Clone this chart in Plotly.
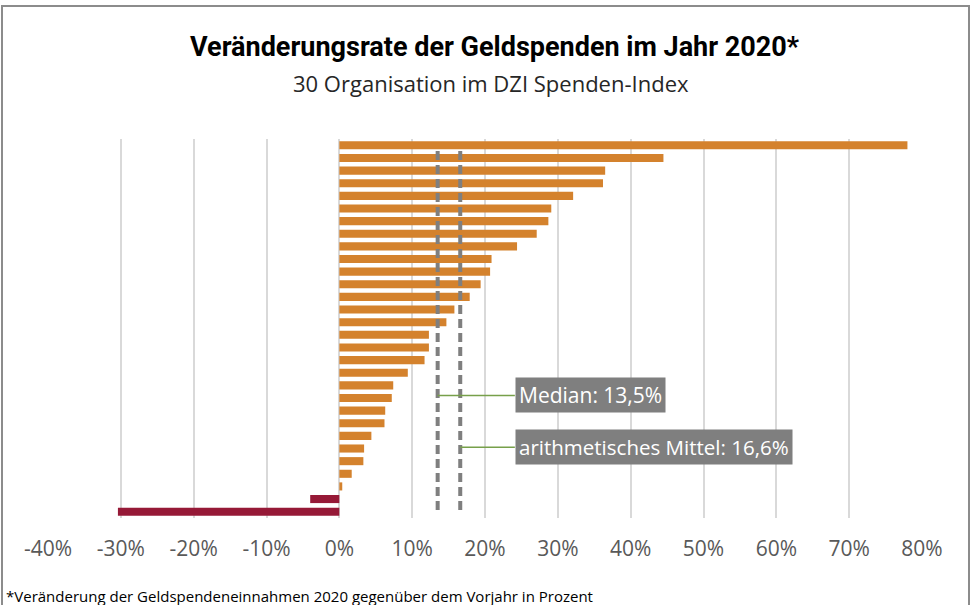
import plotly.graph_objects as go

# Data: change rate of monetary donations 2020 (%), 30 organisations, sorted descending
rates = [78.0, 44.5, 36.5, 36.2, 32.1, 29.1, 28.7, 27.1, 24.4, 20.9,
         20.7, 19.4, 17.9, 15.8, 14.7, 12.3, 12.3, 11.7, 9.4, 7.4,
         7.2, 6.3, 6.2, 4.4, 3.4, 3.3, 1.7, 0.4, -4.0, -30.4]
tick_vals = [-40, -30, -20, -10, 0, 10, 20, 30, 40, 50, 60, 70, 80]
tick_text = [f"{v}%" for v in tick_vals]

title = "Veränderungsrate der Geldspenden im Jahr 2020*"
subtitle = "30 Organisation im DZI Spenden-Index"
footnote = "*Veränderung der Geldspendeneinnahmen 2020 gegenüber dem Vorjahr in Prozent"

median_val = 13.5
mean_val = 16.6

ORANGE = "#D4822D"
DARKRED = "#961937"
GREY = "#7F7F7F"
GREEN = "#77A04A"
FONT = "Open Sans"

rows = list(range(len(rates)))
colors = [ORANGE if r >= 0 else DARKRED for r in rates]

fig = go.Figure()
fig.add_trace(go.Bar(
    x=rates, y=rows, orientation="h",
    marker=dict(color=colors, line=dict(width=0)),
    hoverinfo="x",
))

# dashed reference lines (median and mean)
for v in (median_val, mean_val):
    fig.add_shape(type="line", xref="x", yref="y", x0=v, x1=v, y0=0.45, y1=29.1,
                  line=dict(color=GREY, width=4, dash="9px,5px"), layer="above")

# labels with green connector lines
fig.add_annotation(x=median_val, y=19.8, xref="x", yref="y",
                   ax=24.1, ay=19.8, axref="x", ayref="y",
                   text="Median: 13,5%", showarrow=True, arrowhead=0,
                   arrowcolor=GREEN, arrowwidth=1.5, xanchor="left",
                   bgcolor=GREY, borderpad=3,
                   font=dict(family=FONT, size=21, color="white"))
fig.add_annotation(x=mean_val, y=23.9, xref="x", yref="y",
                   ax=24.1, ay=23.9, axref="x", ayref="y",
                   text="arithmetisches Mittel: 16,6%", showarrow=True, arrowhead=0,
                   arrowcolor=GREEN, arrowwidth=1.5, xanchor="left",
                   bgcolor=GREY, borderpad=3,
                   font=dict(family=FONT, size=20.5, color="white"))

# titles
fig.add_annotation(x=0.511, y=47, xref="paper", yref="paper", text="<b>" + title + "</b>",
                   showarrow=False, yanchor="middle",
                   font=dict(family="Roboto", size=27, color="black"))
fig.add_annotation(x=0.507, y=83, xref="paper", yref="paper", text=subtitle,
                   showarrow=False, yanchor="middle",
                   font=dict(family=FONT, size=22, color="#262626"))
fig.add_annotation(x=0.0, y=596, xref="paper", yref="paper", text=footnote,
                   showarrow=False, yanchor="middle", xanchor="left",
                   font=dict(family=FONT, size=15, color="black"))

# convert pixel positions of titles to paper coordinates
PL, PR, PT, PB = 48, 49, 139, 87
W, H = 971, 605
ph = H - PT - PB
pw = W - PL - PR
for ann in fig.layout.annotations:
    if ann.yref == "paper":
        ann.y = (H - PB - ann.y) / ph
fig.layout.annotations[-1].x = (4 - PL) / pw

# outer frame
def px_x(p):
    return (p - PL) / pw

def px_y(p):
    return (H - PB - p) / ph

frame = dict(color="#8C8C8C", width=2)
fig.add_shape(type="line", xref="paper", yref="paper", x0=px_x(2), x1=px_x(969),
              y0=px_y(6), y1=px_y(6), line=frame)
fig.add_shape(type="line", xref="paper", yref="paper", x0=px_x(2), x1=px_x(2),
              y0=px_y(5), y1=px_y(640), line=frame)
fig.add_shape(type="line", xref="paper", yref="paper", x0=px_x(969), x1=px_x(969),
              y0=px_y(5), y1=px_y(640), line=frame)

fig.update_layout(
    width=W, height=H,
    margin=dict(l=PL, r=PR, t=PT, b=PB, autoexpand=False),
    paper_bgcolor="white", plot_bgcolor="white",
    bargap=0.36, showlegend=False,
    xaxis=dict(range=[-40, 80], tickvals=tick_vals, ticktext=tick_text,
               showgrid=True, gridcolor="#D9D9D9", gridwidth=2,
               zeroline=False, showline=False, automargin=False,
               ticks="outside", ticklen=12, tickcolor="rgba(0,0,0,0)",
               tickfont=dict(family=FONT, size=21, color="#595959"),
               fixedrange=True),
    yaxis=dict(range=[29.5, -0.5], visible=False, showgrid=False, zeroline=False,
               fixedrange=True, automargin=False),
)

fig.write_html("out.html", config={"displayModeBar": False},
               post_script="document.body.style.margin='0px';document.body.style.overflow='hidden';")
